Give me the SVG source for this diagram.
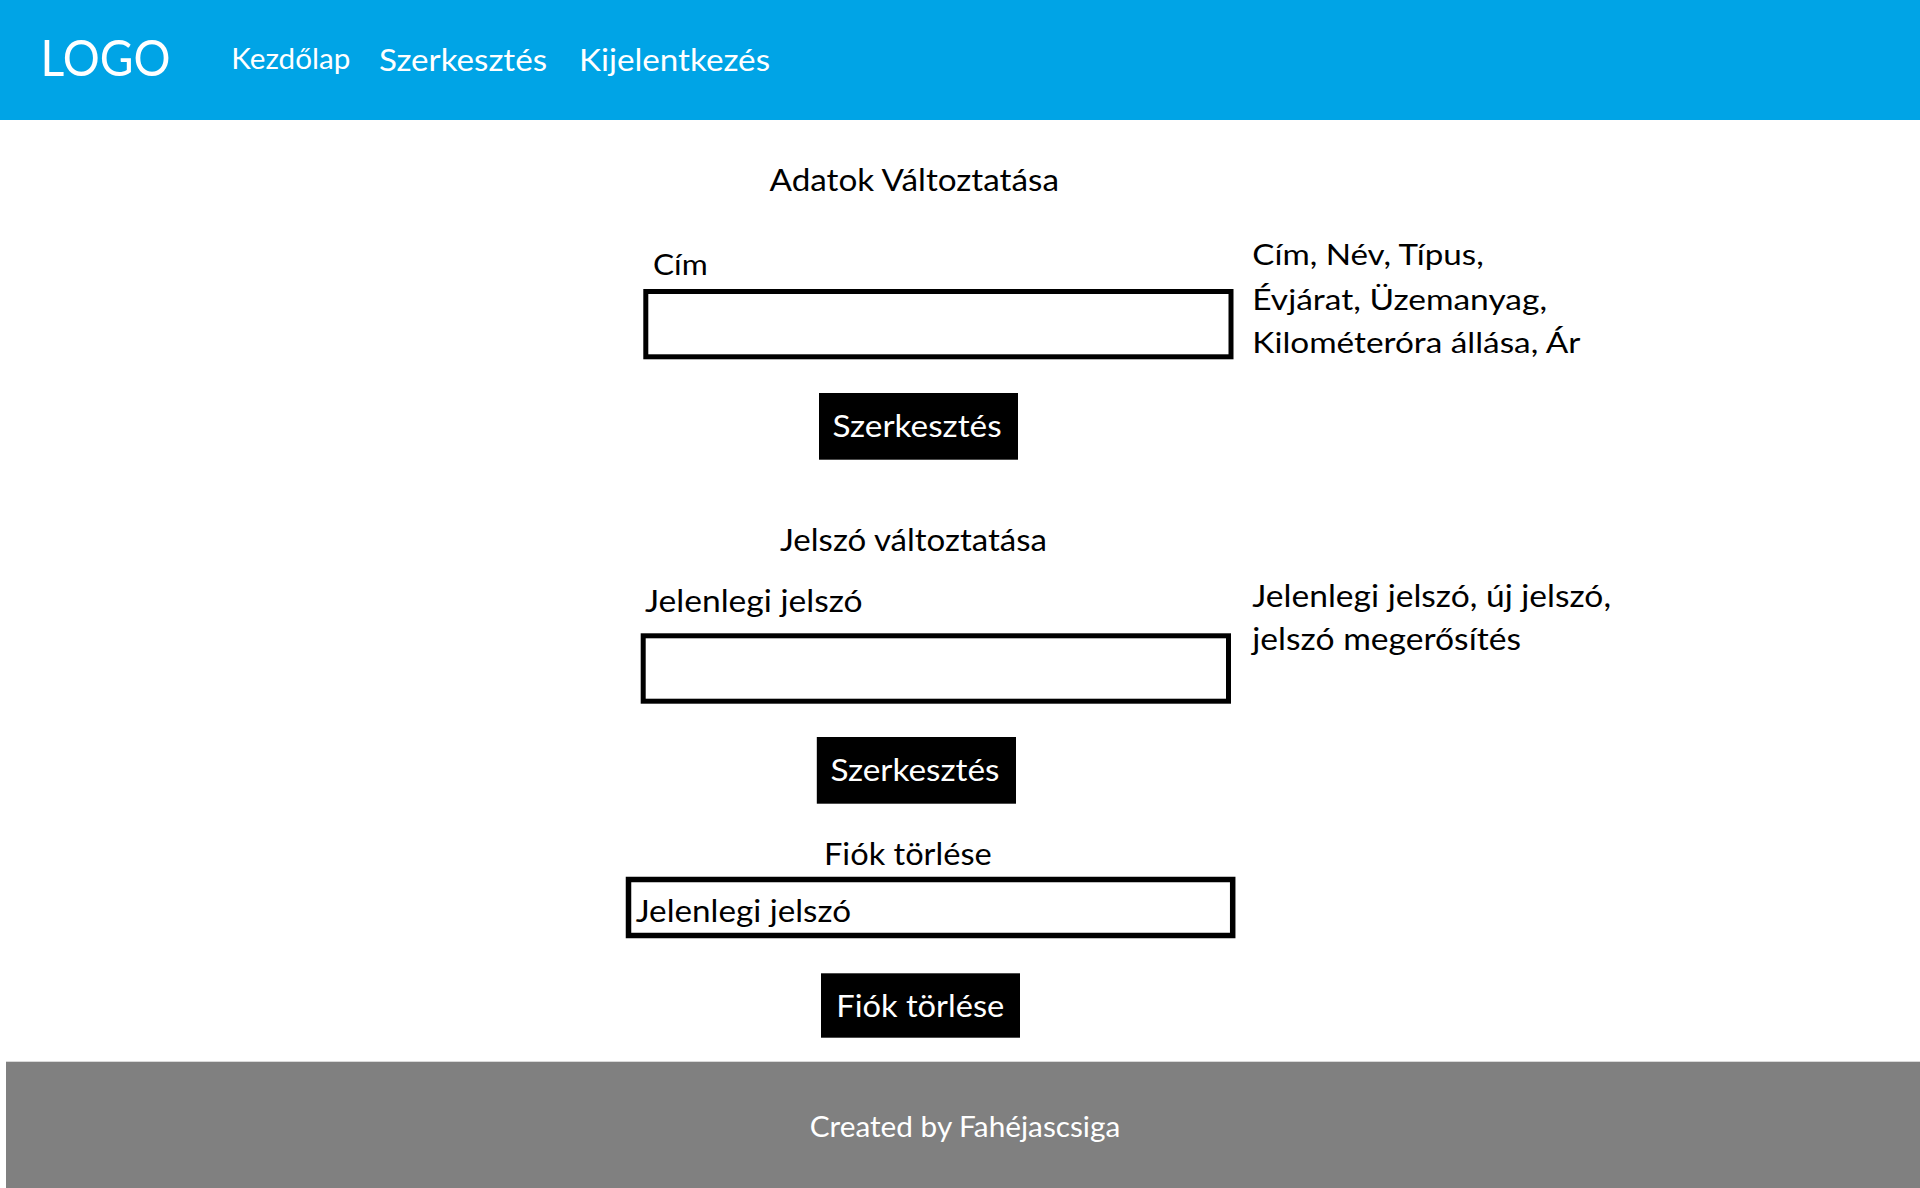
<svg xmlns="http://www.w3.org/2000/svg" width="1920" height="1188" viewBox="0 0 1920 1188">
  <style>
    text { font-family: "Lato", "Open Sans", "DejaVu Sans", sans-serif; }
    .w { fill: #ffffff; }
    .k { fill: #000000; }
    .box { fill: #ffffff; stroke: #000000; stroke-width: 5; }
    .btn { fill: #000000; }
    .t30 { font-size: 30px; }
    .t28 { font-size: 28px; }
  </style>
  <rect x="0" y="0" width="1920" height="1188" fill="#ffffff"/>

  <g id="header">
    <rect x="0" y="0" width="1920" height="120" fill="#00A4E6"/>
    <text id="logo" class="w" x="40.5" y="75.7" font-size="50" textLength="130" lengthAdjust="spacingAndGlyphs">LOGO</text>
    <text id="nav-kezdolap" class="w t28" x="231.3" y="69" textLength="119" lengthAdjust="spacingAndGlyphs">Kezdőlap</text>
    <text id="nav-szerkesztes" class="w" x="379" y="71" font-size="31" textLength="168" lengthAdjust="spacingAndGlyphs">Szerkesztés</text>
    <text id="nav-kijelentkezes" class="w" x="579" y="71" font-size="31" textLength="191" lengthAdjust="spacingAndGlyphs">Kijelentkezés</text>
  </g>

  <g id="section-adatok">
    <text id="title-adatok" class="k t30" x="769.5" y="190.7" textLength="289.5" lengthAdjust="spacingAndGlyphs">Adatok Változtatása</text>
    <text id="label-cim" class="k t28" x="653" y="275" textLength="54.7" lengthAdjust="spacingAndGlyphs">Cím</text>
    <rect id="input-cim" class="box" x="645.8" y="291.5" width="585.2" height="65.3"/>
    <g id="btn-szerkesztes-1">
      <rect class="btn" x="819" y="393" width="199" height="66.7"/>
      <text class="w t30" x="832.6" y="436.5" textLength="169" lengthAdjust="spacingAndGlyphs">Szerkesztés</text>
    </g>
    <g id="note-adatok">
      <text class="k t28" x="1252.3" y="264.8" textLength="231.4" lengthAdjust="spacingAndGlyphs">Cím, Név, Típus,</text>
      <text class="k t28" x="1252.3" y="309.5" textLength="294.7" lengthAdjust="spacingAndGlyphs">Évjárat, Üzemanyag,</text>
      <text class="k t28" x="1252.3" y="353" textLength="328" lengthAdjust="spacingAndGlyphs">Kilométeróra állása, Ár</text>
    </g>
  </g>

  <g id="section-jelszo">
    <text id="title-jelszo" class="k t30" x="780" y="550.5" textLength="267" lengthAdjust="spacingAndGlyphs">Jelszó változtatása</text>
    <text id="label-jelenlegi" class="k t30" x="645" y="612.3" textLength="217.6" lengthAdjust="spacingAndGlyphs">Jelenlegi jelszó</text>
    <rect id="input-jelszo" class="box" x="643.2" y="635.8" width="585.3" height="65.4"/>
    <g id="btn-szerkesztes-2">
      <rect class="btn" x="816.8" y="737" width="199.2" height="66.7"/>
      <text class="w t30" x="830.5" y="780.5" textLength="169" lengthAdjust="spacingAndGlyphs">Szerkesztés</text>
    </g>
    <g id="note-jelszo">
      <text class="k t30" x="1252.3" y="607" textLength="358.7" lengthAdjust="spacingAndGlyphs">Jelenlegi jelszó, új jelszó,</text>
      <text class="k t30" x="1252.3" y="650" textLength="268.7" lengthAdjust="spacingAndGlyphs">jelszó megerősítés</text>
    </g>
  </g>

  <g id="section-fiok">
    <text id="title-fiok" class="k t30" x="824" y="864.8" textLength="167.7" lengthAdjust="spacingAndGlyphs">Fiók törlése</text>
    <rect id="input-fiok" class="box" x="628.5" y="879.5" width="604.2" height="56" style="stroke-width:5.5"/>
    <text id="input-fiok-text" class="k t30" x="635.7" y="922.2" textLength="215.3" lengthAdjust="spacingAndGlyphs">Jelenlegi jelszó</text>
    <g id="btn-fiok-torlese">
      <rect class="btn" x="821" y="973.3" width="199" height="64.4"/>
      <text class="w t30" x="836.3" y="1016.5" textLength="168" lengthAdjust="spacingAndGlyphs">Fiók törlése</text>
    </g>
  </g>

  <g id="footer">
    <rect x="6" y="1061.7" width="1914" height="126.3" fill="#808080"/>
    <text class="w t28" x="809.7" y="1137" textLength="310.6" lengthAdjust="spacingAndGlyphs">Created by Fahéjascsiga</text>
  </g>
</svg>
